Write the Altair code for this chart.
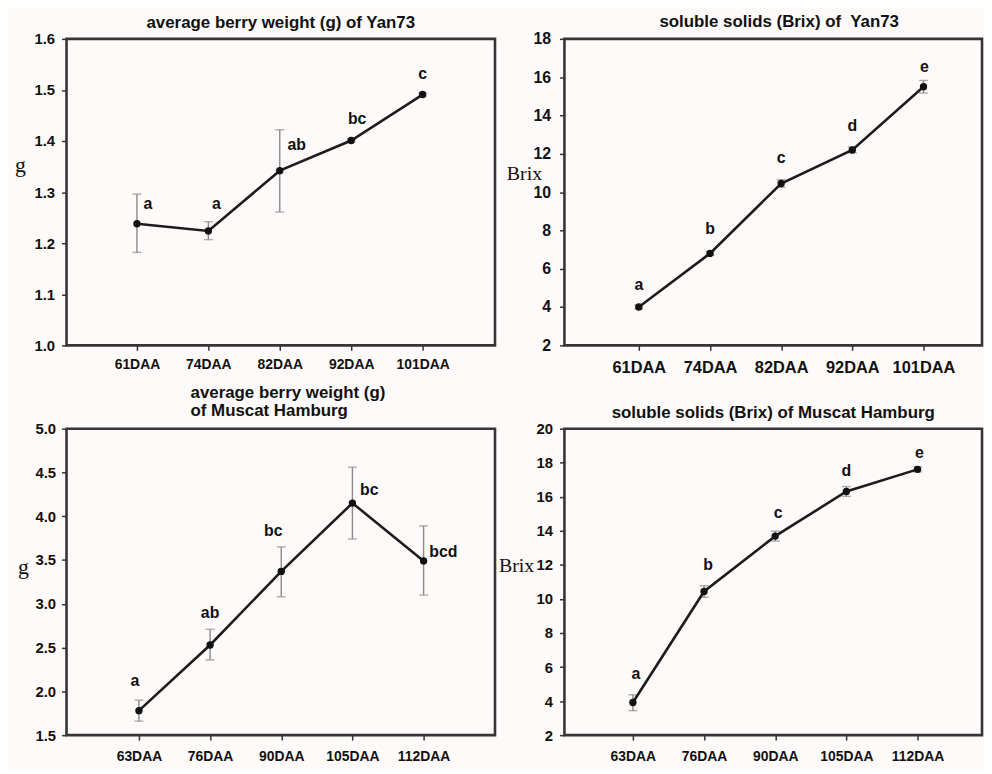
import altair as alt
import pandas as pd

# ---------------- data ----------------
yan_stages = ["61DAA", "74DAA", "82DAA", "92DAA", "101DAA"]
mh_stages = ["63DAA", "76DAA", "90DAA", "105DAA", "112DAA"]

# average berry weight (g) of Yan73
a_mean = [1.238, 1.224, 1.342, 1.401, 1.491]
a_lo = [1.182, 1.207, 1.261, 1.398, 1.488]
a_hi = [1.296, 1.242, 1.422, 1.404, 1.494]
a_letters = ["a", "a", "ab", "bc", "c"]
a_letter_y = [1.277, 1.277, 1.393, 1.443, 1.532]

# soluble solids (Brix) of Yan73
b_mean = [4.0, 6.8, 10.45, 12.2, 15.5]
b_lo = [3.9, 6.7, 10.25, 12.05, 15.17]
b_hi = [4.1, 6.9, 10.65, 12.35, 15.83]
b_letters = ["a", "b", "c", "d", "e"]
b_letter_y = [5.16, 8.06, 11.77, 13.45, 16.55]

# average berry weight (g) of Muscat Hamburg
c_mean = [1.78, 2.53, 3.37, 4.15, 3.49]
c_lo = [1.66, 2.36, 3.08, 3.74, 3.10]
c_hi = [1.90, 2.71, 3.65, 4.56, 3.89]
c_letters = ["a", "ab", "bc", "bc", "bcd"]
c_letter_y = [2.115, 2.90, 3.83, 4.30, 3.59]

# soluble solids (Brix) of Muscat Hamburg
d_mean = [3.92, 10.44, 13.69, 16.31, 17.61]
d_lo = [3.44, 10.10, 13.40, 16.02, 17.46]
d_hi = [4.37, 10.77, 13.98, 16.60, 17.76]
d_letters = ["a", "b", "c", "d", "e"]
d_letter_y = [5.59, 11.98, 15.05, 17.51, 18.54]

a_ticks = [1.0, 1.1, 1.2, 1.3, 1.4, 1.5, 1.6]
b_ticks = [2, 4, 6, 8, 10, 12, 14, 16, 18]
c_ticks = [1.5, 2.0, 2.5, 3.0, 3.5, 4.0, 4.5, 5.0]
d_ticks = [2, 4, 6, 8, 10, 12, 14, 16, 18, 20]

SANS = "Liberation Sans"
SERIF = "Liberation Serif"


def panel(stages, mean, lo, hi, letters, letter_y, letter_dx, ticks, fmt,
          width, height, xrange, title, ytitle, ytitle_opts,
          ylab_size, xlab_size, y_lab_pad, x_lab_pad):
    df = pd.DataFrame({"stage": stages, "mean": mean, "lo": lo, "hi": hi,
                       "letter": letters, "ly": letter_y})
    xs = alt.X("stage:N", sort=stages,
               scale=alt.Scale(type="point", range=xrange, padding=0),
               axis=alt.Axis(title=None, labelFontSize=xlab_size, labelPadding=x_lab_pad,
                             labelAngle=0))
    yscale = alt.Scale(domain=[ticks[0], ticks[-1]], nice=False, zero=False)
    yaxis = alt.Axis(values=ticks, format=fmt, title=ytitle, labelFontSize=ylab_size,
                     labelPadding=y_lab_pad, titleFont=SERIF,
                     titleFontWeight="normal", titleColor="#111", titleAngle=0,
                     titleBaseline="middle", **ytitle_opts)

    def Y(field):
        return alt.Y(field, scale=yscale, axis=yaxis)

    base = alt.Chart(df)
    err = base.mark_rule(color="#8a8a8a", strokeWidth=1.4).encode(x=xs, y=Y("lo:Q"), y2="hi:Q")
    cap_lo = base.mark_tick(color="#8a8a8a", size=9, thickness=1.4, orient="horizontal").encode(x=xs, y=Y("lo:Q"))
    cap_hi = base.mark_tick(color="#8a8a8a", size=9, thickness=1.4, orient="horizontal").encode(x=xs, y=Y("hi:Q"))
    line = base.mark_line(color="#1c1c1c", strokeWidth=2.6).encode(x=xs, y=Y("mean:Q"))
    pts = base.mark_circle(color="#111111", size=55, opacity=1).encode(x=xs, y=Y("mean:Q"))
    layers = [err, cap_lo, cap_hi, line, pts]
    for i in range(len(stages)):
        layers.append(
            alt.Chart(df.iloc[[i]]).mark_text(font=SANS, fontWeight="bold", fontSize=16,
                                              color="#111", dx=letter_dx[i], baseline="middle")
            .encode(x=xs, y=Y("ly:Q"), text="letter:N"))
    return alt.layer(*layers).properties(width=width, height=height, title=title)


def ttl(text, **kw):
    return alt.Title(text, frame="group", fontSize=17, font=SANS, fontWeight="bold",
                     color="#111", **kw)


A = panel(yan_stages, a_mean, a_lo, a_hi, a_letters, a_letter_y, [11, 8, 17, 6, 0],
          a_ticks, ".1f", 432, 309, [71, 359],
          ttl("average berry weight (g) of Yan73", offset=0),
          "g", dict(titleX=-47, titleY=127, titleAlign="center", titleFontSize=22),
          15, 14, 7, 7)
B = panel(yan_stages, b_mean, b_lo, b_hi, b_letters, b_letter_y, [0, 0, 0, 0, 1],
          b_ticks, "d", 421, 309, [75, 362],
          ttl("soluble solids (Brix) of\u00a0 Yan73", offset=0, dx=6),
          "Brix", dict(titleX=-23, titleY=136, titleAlign="right", titleFontSize=20),
          16, 16.5, 9, 9)
C = panel(mh_stages, c_mean, c_lo, c_hi, c_letters, c_letter_y, [-4, 0, -8, 17, 20],
          c_ticks, ".1f", 432, 309, [73, 360],
          ttl(["average berry weight (g)", "of Muscat Hamburg"], offset=2,
              anchor="start", align="left", dx=125, lineHeight=18),
          "g", dict(titleX=-44, titleY=139, titleAlign="center", titleFontSize=22),
          15, 14, 6, 10)
D = panel(mh_stages, d_mean, d_lo, d_hi, d_letters, d_letter_y, [3, 4, 3, 0, 2],
          d_ticks, "d", 421, 309, [69, 356],
          ttl("soluble solids (Brix) of Muscat Hamburg", offset=0),
          "Brix", dict(titleX=-31, titleY=138, titleAlign="right", titleFontSize=20),
          15, 14, 7, 10)

chart = alt.concat(A, B, C, D, columns=2, spacing={"row": 84, "column": 70}, bounds="flush").properties(
    padding={"left": 5, "top": 0, "right": 0, "bottom": 0}
).configure(background="#fdfaf9").configure_view(
    stroke="#353535", strokeWidth=2.6
).configure_axis(
    domain=False, grid=False, tickSize=5, tickWidth=1.5, tickColor="#333333",
    labelFont=SANS, labelFontWeight="bold", labelColor="#111111"
)

chart.save("out.html", embed_options={"renderer": "svg", "actions": False})
